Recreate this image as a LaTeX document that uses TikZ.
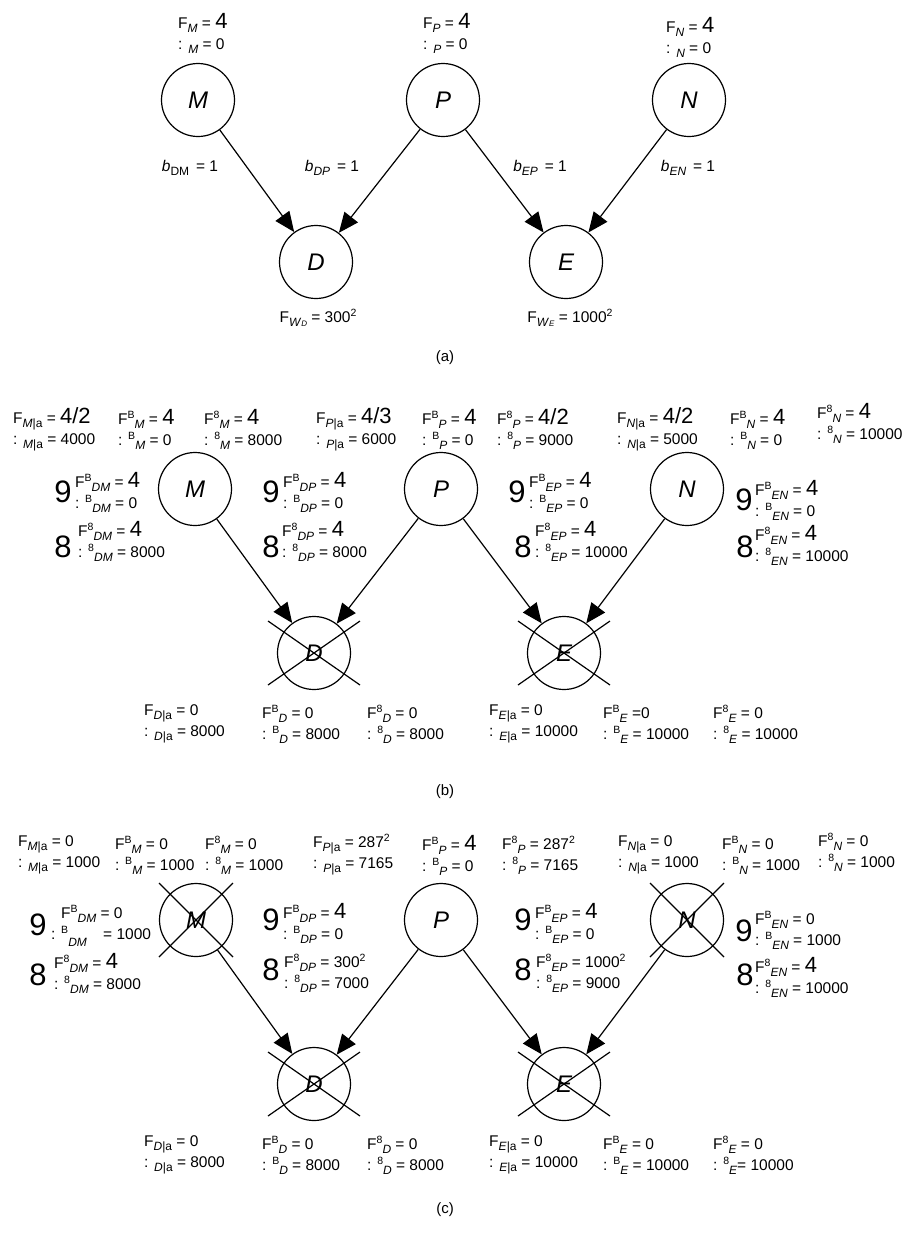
\documentclass[tikz,border=0pt]{standalone}
\usepackage{fontspec}
\setmainfont{Liberation Sans}
\usetikzlibrary{arrows.meta}
\newcommand{\lo}[1]{\raisebox{-4pt}{\fontsize{12}{12}\selectfont #1}}
\newcommand{\sn}[1]{\lo{\textit{#1}}}
\newcommand{\hi}[1]{\raisebox{6pt}{\fontsize{10.5}{10.5}\selectfont #1}}
\newcommand{\bigv}[1]{{\fontsize{22}{22}\selectfont #1}}
\tikzset{
  state/.style={circle,draw,line width=1.2pt,minimum size=73pt,inner sep=0pt,font=\fontsize{24}{24}\selectfont\itshape},
  edge/.style={-{Triangle[length=20pt,width=17pt]},line width=1.2pt},
  xline/.style={line width=1.2pt},
  lbl/.style={align=left,anchor=west,inner sep=0pt,font=\fontsize{15.5}{21}\selectfont},
  big/.style={inner sep=0pt,font=\fontsize{31}{31}\selectfont},
  tag/.style={inner sep=0pt,font=\fontsize{15}{18}\selectfont}
}
\begin{document}
\begin{tikzpicture}[x=1pt,y=-1pt]
  \useasboundingbox (0,0) rectangle (905,1235);
  % (a)
  \node[state] (aM) at (198,100) {M}; \node[state] (aP) at (443,100) {P}; \node[state] (aN) at (689,100) {N};
  \node[state] (aD) at (316,262) {D}; \node[state] (aE) at (566,262) {E};
  \draw[edge] (aM)--(aD); \draw[edge] (aP)--(aD); \draw[edge] (aP)--(aE); \draw[edge] (aN)--(aE);
  \node[lbl] (aFM) at (178,33) {F\sn{M} = \bigv{4}\\: \sn{M} = 0};
  \node[lbl] (aFP) at (423,33) {F\sn{P} = \bigv{4}\\: \sn{P} = 0};
  \node[lbl] (aFN) at (666,37) {F\sn{N} = \bigv{4}\\: \sn{N} = 0};
  \node[lbl,anchor=center] (abDM) at (190,168) {\textit{b}\lo{DM} \,= 1};
  \node[lbl,anchor=center] (abDP) at (332,168) {\textit{b}\sn{DP} \,= 1};
  \node[lbl,anchor=center] (abEP) at (540,168) {\textit{b}\sn{EP} \,= 1};
  \node[lbl,anchor=center] (abEN) at (688,168) {\textit{b}\sn{EN} \,= 1};
  \node[lbl,anchor=center] (aFWD) at (318,318) {F\lo{\textit{W}{\fontsize{8}{8}\selectfont\textit{D}}} = 300\hi{2}};
  \node[lbl,anchor=center] (aFWE) at (570,318) {F\lo{\textit{W}{\fontsize{8}{8}\selectfont\textit{E}}} = 1000\hi{2}};
  \node[tag] (acap) at (445,358) {(a)};
  % (b)
  \node[state] (bM) at (195,489) {M}; \node[state] (bP) at (441,489) {P}; \node[state] (bN) at (687,489) {N};
  \node[state] (bD) at (314,653) {D}; \node[state] (bE) at (564,653) {E};
  \draw[edge] (bM)--(bD); \draw[edge] (bP)--(bD); \draw[edge] (bP)--(bE); \draw[edge] (bN)--(bE);
  \node[lbl] (bFMa) at (13,429) {F\lo{\textit{M}|a} = \bigv{4/2}\\: \lo{\textit{M}|a} = 4000};
  \node[lbl] (bFBM) at (118,429) {F\hi{B}\sn{M} = \bigv{4}\\: \hi{B}\sn{M} = 0};
  \node[lbl] (bF8M) at (204,429) {F\hi{8}\sn{M} = \bigv{4}\\: \hi{8}\sn{M} = 8000};
  \node[lbl] (bFPa) at (316,429) {F\lo{\textit{P}|a} = \bigv{4/3}\\: \lo{\textit{P}|a} = 6000};
  \node[lbl] (bFBP) at (422,429) {F\hi{B}\sn{P} = \bigv{4}\\: \hi{B}\sn{P} = 0};
  \node[lbl] (bF8P) at (497,429) {F\hi{8}\sn{P} = \bigv{4/2}\\: \hi{8}\sn{P} = 9000};
  \node[lbl] (bFNa) at (617,429) {F\lo{\textit{N}|a} = \bigv{4/2}\\: \lo{\textit{N}|a} = 5000};
  \node[lbl] (bFBN) at (730,429) {F\hi{B}\sn{N} = \bigv{4}\\: \hi{B}\sn{N} = 0};
  \node[lbl] (bF8N) at (817,423) {F\hi{8}\sn{N} = \bigv{4}\\: \hi{8}\sn{N} = 10000};
  \node[big] (b9DM) at (63,492) {9}; \node[lbl] (bFBDM) at (75,492) {F\hi{B}\sn{DM} = \bigv{4}\\: \hi{B}\sn{DM} = 0};
  \node[big] (b8DM) at (63,547) {8}; \node[lbl] (bF8DM) at (78,541) {F\hi{8}\sn{DM} = \bigv{4}\\: \hi{8}\sn{DM} = 8000};
  \node[big] (b9DP) at (271,492) {9}; \node[lbl] (bFBDP) at (283,492) {F\hi{B}\sn{DP} = \bigv{4}\\: \hi{B}\sn{DP} = 0};
  \node[big] (b8DP) at (271,547) {8}; \node[lbl] (bF8DP) at (282,541) {F\hi{8}\sn{DP} = \bigv{4}\\: \hi{8}\sn{DP} = 8000};
  \node[big] (b9EP) at (517,492) {9}; \node[lbl] (bFBEP) at (529,492) {F\hi{B}\sn{EP} = \bigv{4}\\: \hi{B}\sn{EP} = 0};
  \node[big] (b8EP) at (523,547) {8}; \node[lbl] (bF8EP) at (535,541) {F\hi{8}\sn{EP} = \bigv{4}\\: \hi{8}\sn{EP} = 10000};
  \node[big] (b9EN) at (744,500) {9}; \node[lbl] (bFBEN) at (755,500) {F\hi{B}\sn{EN} = \bigv{4}\\: \hi{B}\sn{EN} = 0};
  \node[big] (b8EN) at (745,547) {8}; \node[lbl] (bF8EN) at (755,545) {F\hi{8}\sn{EN} = \bigv{4}\\: \hi{8}\sn{EN} = 10000};
  \node[lbl] (bFDa) at (144,724) {F\lo{\textit{D}|a} = 0\\: \lo{\textit{D}|a} = 8000};
  \node[lbl] (bFBD) at (262,724) {F\hi{B}\sn{D} = 0\\: \hi{B}\sn{D} = 8000};
  \node[lbl] (bF8D) at (367,724) {F\hi{8}\sn{D} = 0\\: \hi{8}\sn{D} = 8000};
  \node[lbl] (bFEa) at (489,724) {F\lo{\textit{E}|a} = 0\\: \lo{\textit{E}|a} = 10000};
  \node[lbl] (bFBE) at (603,724) {F\hi{B}\sn{E} =0\\: \hi{B}\sn{E} = 10000};
  \node[lbl] (bF8E) at (713,724) {F\hi{8}\sn{E} = 0\\: \hi{8}\sn{E} = 10000};
  \node[tag] (bcap) at (445,792) {(b)};
  % (c)
  \node[state] (cM) at (196,920) {M}; \node[state] (cP) at (441,920) {P}; \node[state] (cN) at (687,920) {N};
  \node[state] (cD) at (314,1084) {D}; \node[state] (cE) at (564,1084) {E};
  \draw[edge] (cM)--(cD); \draw[edge] (cP)--(cD); \draw[edge] (cP)--(cE); \draw[edge] (cN)--(cE);
  \node[lbl] (cFMa) at (18,855) {F\lo{\textit{M}|a} = 0\\: \lo{\textit{M}|a} = 1000};
  \node[lbl] (cFBM) at (115,855) {F\hi{B}\sn{M} = 0\\: \hi{B}\sn{M} = 1000};
  \node[lbl] (cF8M) at (205,855) {F\hi{8}\sn{M} = 0\\: \hi{8}\sn{M} = 1000};
  \node[lbl] (cFPa) at (313,855) {F\lo{\textit{P}|a} = 287\hi{2}\\: \lo{\textit{P}|a} = 7165};
  \node[lbl] (cFBP) at (422,855) {F\hi{B}\sn{P} = \bigv{4}\\: \hi{B}\sn{P} = 0};
  \node[lbl] (cF8P) at (502,855) {F\hi{8}\sn{P} = 287\hi{2}\\: \hi{8}\sn{P} = 7165};
  \node[lbl] (cFNa) at (618,855) {F\lo{\textit{N}|a} = 0\\: \lo{\textit{N}|a} = 1000};
  \node[lbl] (cFBN) at (722,855) {F\hi{B}\sn{N} = 0\\: \hi{B}\sn{N} = 1000};
  \node[lbl] (cF8N) at (818,852) {F\hi{8}\sn{N} = 0\\: \hi{8}\sn{N} = 1000};
  \node[big] (c9DM) at (38,925) {9}; \node[lbl] (cFBDM) at (51,926) {\hspace{10pt}F\hi{B}\sn{DM} = 0\\: \hi{B}\lo{\raisebox{-3pt}{\textit{DM}}}\hspace{12pt} = 1000};
  \node[big] (c8DM) at (38,975) {8}; \node[lbl] (cF8DM) at (54,973) {F\hi{8}\sn{DM} = \bigv{4}\\: \hi{8}\sn{DM} = 8000};
  \node[big] (c9DP) at (271,920) {9}; \node[lbl] (cFBDP) at (283,923) {F\hi{B}\sn{DP} = \bigv{4}\\: \hi{B}\sn{DP} = 0};
  \node[big] (c8DP) at (271,970) {8}; \node[lbl] (cF8DP) at (284,973) {F\hi{8}\sn{DP} = 300\hi{2}\\: \hi{8}\sn{DP} = 7000};
  \node[big] (c9EP) at (523,920) {9}; \node[lbl] (cFBEP) at (535,923) {F\hi{B}\sn{EP} = \bigv{4}\\: \hi{B}\sn{EP} = 0};
  \node[big] (c8EP) at (523,970) {8}; \node[lbl] (cF8EP) at (536,973) {F\hi{8}\sn{EP} = 1000\hi{2}\\: \hi{8}\sn{EP} = 9000};
  \node[big] (c9EN) at (744,931) {9}; \node[lbl] (cFBEN) at (755,930) {F\hi{B}\sn{EN} = 0\\: \hi{B}\sn{EN} = 1000};
  \node[big] (c8EN) at (745,975) {8}; \node[lbl] (cF8EN) at (755,977) {F\hi{8}\sn{EN} = \bigv{4}\\: \hi{8}\sn{EN} = 10000};
  \node[lbl] (cFDa) at (144,1155) {F\lo{\textit{D}|a} = 0\\: \lo{\textit{D}|a} = 8000};
  \node[lbl] (cFBD) at (262,1155) {F\hi{B}\sn{D} = 0\\: \hi{B}\sn{D} = 8000};
  \node[lbl] (cF8D) at (367,1155) {F\hi{8}\sn{D} = 0\\: \hi{8}\sn{D} = 8000};
  \node[lbl] (cFEa) at (489,1155) {F\lo{\textit{E}|a} = 0\\: \lo{\textit{E}|a} = 10000};
  \node[lbl] (cFBE) at (603,1155) {F\hi{B}\sn{E} = 0\\: \hi{B}\sn{E} = 10000};
  \node[lbl] (cF8E) at (713,1155) {F\hi{8}\sn{E} = 0\\: \hi{8}\sn{E}= 10000};
  \node[tag] (ccap) at (445,1210) {(c)};
  % crossed-out nodes
  \foreach \n in {bD,bE,cD,cE}
    \draw[xline] (\n.center) ++(-46,-32) -- ++(92,64) (\n.center) ++(46,-32) -- ++(-92,64);
  \foreach \n in {cM,cN}
    \draw[xline] (\n.center) ++(-37,-37) -- ++(74,74) (\n.center) ++(37,-37) -- ++(-74,74);
\end{tikzpicture}
\end{document}
